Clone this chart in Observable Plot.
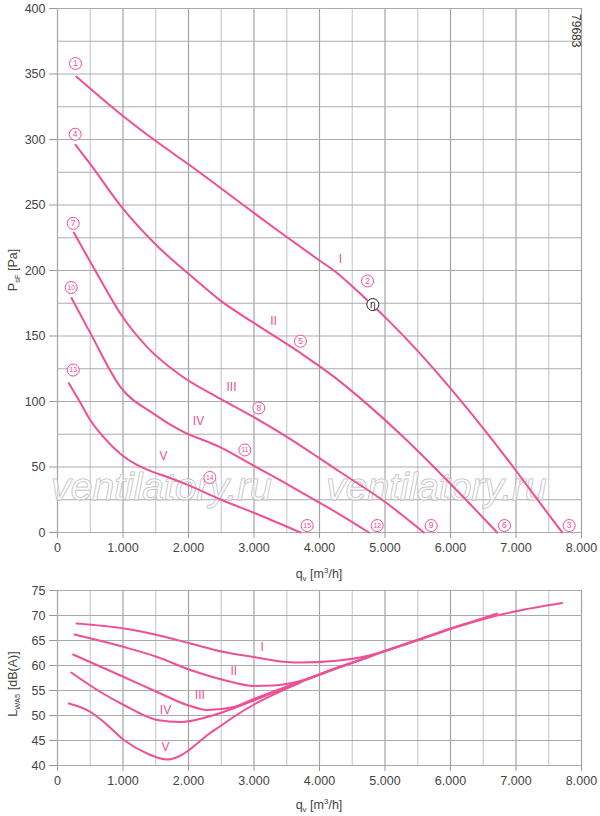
<!DOCTYPE html>
<html>
<head>
<meta charset="utf-8">
<script src="https://cdn.jsdelivr.net/npm/d3@7"></script>
<script src="https://cdn.jsdelivr.net/npm/@observablehq/plot@0.6"></script>
<style>
  html, body { margin: 0; padding: 0; background: #fff; }
  #chart { width: 600px; font-family: "Liberation Sans", Arial, sans-serif; }
  #chart svg { display: block; }
</style>
</head>
<body>
<div id="chart"></div>
<script>
// ---------- data: pressure curves (q in m3/h, p in Pa) ----------
const pI   = [[290,348],[1000,318],[1496,299],[2031,280],[2997,244],[3405,229],[3989,208],[4244,199],[4499,188],[4779,175],[5008,164],[5491,139],[6000,110],[6509,79],[7018,46],[7374,22],[7705,0]];
const pII  = [[275,296],[504,281],[987,248],[1496,220],[2107,193],[2489,177],[2997,160],[3710,137],[4218,119],[4727,98],[5236,75],[5746,50],[6255,24],[6713,0]];
const pIII = [[249,229],[656,193],[962,167],[1369,141.5],[1878,120],[2489,102],[2997,88],[3507,72.8],[4015,56.2],[4321,46],[4982,24],[5593,0]];
const pIV  = [[214,179],[504,152],[962,111],[1470,90.6],[1878,77.9],[2489,65],[2997,51],[3405,39.7],[3710,31],[4218,16.5],[4753,0]];
const pV   = [[173,114],[350,99],[504,85.5],[700,73],[962,60],[1200,52],[1369,48],[1700,42],[1980,36.5],[2500,25],[3099,13],[3710,0]];

// ---------- data: sound power curves (q in m3/h, L in dB(A)) ----------
const lI   = [[290,68.4],[1013,67.4],[1522,66.1],[2031,64.4],[2539,62.7],[2997,61.7],[3506,60.7],[3710,60.6],[4218,60.9],[4727,61.9],[5000,62.9],[5491,65.0],[6000,67.3],[6509,69.3],[7018,70.9],[7705,72.5]];
const lII  = [[260,66.2],[1013,63.7],[1522,61.7],[2031,59.1],[2539,57.1],[2997,55.9],[3300,56.0],[3710,56.9],[4218,59.3],[4727,61.6],[5000,62.9],[5491,65.1],[6000,67.4],[6509,69.5],[6713,70.4]];
const lIII = [[239,62.2],[1013,57.7],[1522,54.7],[1980,52.1],[2285,51.1],[2692,51.7],[2997,53.3],[3710,56.8],[4218,59.3],[4727,61.6],[5000,62.9],[5593,65.5]];
const lIV  = [[209,58.6],[656,54.7],[1013,52.1],[1522,49.1],[1878,48.7],[2285,49.7],[2997,53.0],[3710,56.7],[4218,59.2],[4753,61.7]];
const lV   = [[173,52.4],[504,50.7],[707,48.7],[1013,45.1],[1369,42.4],[1674,41.2],[1850,41.8],[2000,43.0],[2150,44.6],[2300,46.2],[2500,48.0],[2700,49.8],[3000,52.2],[3350,54.5],[3710,56.6]];

// ---------- labels ----------
const romanNames = ["I","II","III","IV","V"];
const topRomanQ = [4321,3298,2656,2153,1618];
const topRomanP = [209,161,111,85,58];
const botRomanQ = [3125,2692,2173,1649,1649];
const botRomanL = [63.7,58.9,54.0,51.0,43.6];

const pointNums = ["1","4","7","10","13","2","5","8","11","14","3","6","9","12","15"];
const pointQ    = [275,270,240,209,240,4733,3710,3073,2860,2326,7812,6824,5705,4880,3812];
const pointP    = [358,304,236,187,124,192,146,95,63,42,5.3,5.3,5.3,5.3,5.3];
const etaQ = [4814], etaP = [174];

// ---------- axes ----------
const qTicks = [0,1000,2000,3000,4000,5000,6000,7000,8000];
const qGrid  = d3.range(0, 8001, 500);
const pTicks = d3.range(0, 401, 50);
const pGrid  = d3.range(0, 401, 25);
const lTicks = d3.range(40, 76, 5);

const PINK = "#ee4f96";
const fmt = d => d3.format(",")(d).replace(/,/g, ".");
const toRows = arr => arr.map(([q, v]) => ({q, v}));
const series = [pI, pII, pIII, pIV, pV];
const lseries = [lI, lII, lIII, lIV, lV];

function gridMarks(yGridVals) {
  return [
    Plot.ruleX(qGrid, {x: d => d, stroke: d => d % 1000 === 0 ? "#a3a3a3" : "#cdcdcd", strokeWidth: 1.2}),
    Plot.ruleY(yGridVals, {y: d => d, stroke: "#ababab", strokeWidth: 1.2})
  ];
}

// ---------- top chart ----------
const topChart = Plot.plot({
  width: 600, height: 582,
  marginLeft: 57, marginRight: 19, marginTop: 8, marginBottom: 50,
  style: {fontFamily: '"Liberation Sans", Arial, sans-serif', background: "transparent"},
  x: {domain: [0, 8000]},
  y: {domain: [0, 400]},
  marks: [
    ...gridMarks(pGrid),
    Plot.text(["ventilatory.ru", "ventilatory.ru"], {
      x: [1588, 5786], y: [34, 34], text: d => d,
      fontSize: 39, fontStyle: "italic", fill: "white", fillOpacity: 0.55,
      stroke: "#b5b5b5", strokeWidth: 1
    }),
    ...series.map(s => Plot.line(toRows(s), {x: "q", y: "v", stroke: PINK, strokeWidth: 2, curve: "monotone-x"})),
    Plot.dot(pointNums, {x: (d, i) => pointQ[i], y: (d, i) => pointP[i], r: 6, stroke: PINK, fill: "white", strokeWidth: 1}),
    Plot.text(pointNums, {x: (d, i) => pointQ[i], y: (d, i) => pointP[i], text: d => d, fill: PINK, fontSize: d => d.length > 1 ? 7 : 8.5}),
    Plot.dot(etaQ, {x: d => d, y: (d, i) => etaP[i], r: 6, stroke: "#222", fill: "white", strokeWidth: 1}),
    Plot.text(etaQ, {x: d => d, y: (d, i) => etaP[i], text: () => "η", fill: "#222", fontSize: 10}),
    Plot.text(romanNames, {x: (d, i) => topRomanQ[i], y: (d, i) => topRomanP[i], text: d => d, fill: PINK, fontSize: 12}),
    Plot.text(["79683"], {x: [7908], y: [383], text: d => d, rotate: 90, fill: "#333", fontSize: 12}),
    Plot.axisX({ticks: qTicks, tickFormat: fmt, tickSize: 6, tickPadding: 5, fontSize: 12.5, stroke: "#999", fill: "#444", label: null}),
    Plot.axisY({ticks: pTicks, tickFormat: d => d, tickSize: 8, tickPadding: 4, fontSize: 12.5, stroke: "#999", fill: "#444", label: null})
  ]
});

// ---------- bottom chart ----------
const bottomChart = Plot.plot({
  width: 600, height: 234,
  marginLeft: 57, marginRight: 19, marginTop: 8, marginBottom: 51,
  style: {fontFamily: '"Liberation Sans", Arial, sans-serif', background: "transparent"},
  x: {domain: [0, 8000]},
  y: {domain: [40, 75]},
  marks: [
    ...gridMarks(lTicks),
    ...lseries.map(s => Plot.line(toRows(s), {x: "q", y: "v", stroke: PINK, strokeWidth: 2, curve: "monotone-x"})),
    Plot.text(romanNames, {x: (d, i) => botRomanQ[i], y: (d, i) => botRomanL[i], text: d => d, fill: PINK, fontSize: 12}),
    Plot.axisX({ticks: qTicks, tickFormat: fmt, tickSize: 6, tickPadding: 5, fontSize: 12.5, stroke: "#999", fill: "#444", label: null}),
    Plot.axisY({ticks: lTicks, tickFormat: d => d, tickSize: 8, tickPadding: 4, fontSize: 12.5, stroke: "#999", fill: "#444", label: null})
  ]
});

const chart = document.getElementById("chart");
chart.appendChild(topChart);
chart.appendChild(bottomChart);

// axis titles with subscripts/superscripts
function xTitle(svg, y) {
  const t = d3.select(svg).append("text")
    .attr("x", 319).attr("y", y).attr("text-anchor", "middle")
    .attr("font-size", 12.5).attr("fill", "#444")
    .attr("font-family", '"Liberation Sans", Arial, sans-serif');
  t.append("tspan").text("q");
  t.append("tspan").attr("font-size", 8).attr("dy", 3).text("v");
  t.append("tspan").attr("dy", -3).text(" [m");
  t.append("tspan").attr("font-size", 8).attr("dy", -5).text("3");
  t.append("tspan").attr("dy", 5).text("/h]");
}
function yTitle(svg, cy, main, sub, rest) {
  const t = d3.select(svg).append("text")
    .attr("transform", `translate(17,${cy}) rotate(-90)`)
    .attr("text-anchor", "middle")
    .attr("font-size", 12.5).attr("fill", "#444")
    .attr("font-family", '"Liberation Sans", Arial, sans-serif');
  t.append("tspan").text(main);
  t.append("tspan").attr("font-size", 7.5).attr("dy", 3).text(sub);
  t.append("tspan").attr("dy", -3).text(" " + rest);
}
xTitle(topChart, 578);
xTitle(bottomChart, 227);
yTitle(topChart, 270, "P", "sF", "[Pa]");
yTitle(bottomChart, 102, "L", "WA5", "[dB(A)]");
</script>
</body>
</html>
